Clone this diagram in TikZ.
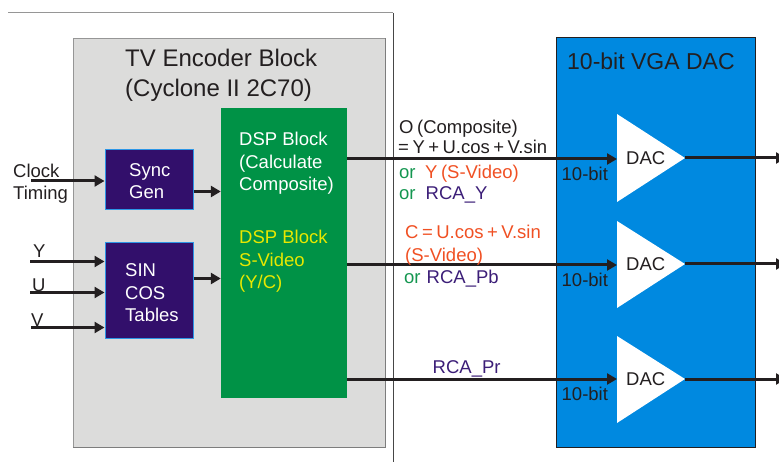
\documentclass[tikz,border=0pt]{standalone}
\usepackage{fontspec}
\setmainfont{Liberation Sans}
\usetikzlibrary{arrows.meta}
\definecolor{encgray}{RGB}{220,220,219}
\definecolor{encedge}{RGB}{150,150,150}
\definecolor{encshadow}{RGB}{125,125,125}
\definecolor{framegray}{RGB}{150,150,150}
\definecolor{framedark}{RGB}{70,70,70}
\definecolor{dspgreen}{RGB}{0,146,70}
\definecolor{boxpurple}{RGB}{50,15,107}
\definecolor{boxedge}{RGB}{45,150,230}
\definecolor{dacblue}{RGB}{0,137,224}
\definecolor{txtdark}{RGB}{35,31,32}
\definecolor{txtyellow}{RGB}{232,232,0}
\definecolor{txtorange}{RGB}{240,80,35}
\definecolor{txtgreen}{RGB}{20,150,80}
\definecolor{txtpurple}{RGB}{60,30,120}
\newcommand{\gp}{\hspace{3.5pt}}
\begin{document}
\begin{tikzpicture}[x=1pt,y=-1pt,
  lbl/.style={anchor=base west, inner sep=0pt, font=\fontsize{18.5}{22}\selectfont, text=txtdark},
  ttl/.style={anchor=base west, inner sep=0pt, font=\fontsize{24}{30}\selectfont, text=txtdark},
  arr/.style={line width=3pt, draw=txtdark, -{Triangle[length=10pt,width=11pt]}},
  block/.style={draw=boxedge, fill=boxpurple, line width=1pt, inner sep=0pt, minimum width=88pt},
  dactri/.style={fill=white, draw=none},
]
\useasboundingbox (0,0) rectangle (779,462);
\clip (0,0) rectangle (779,462);

% outer frame
\draw[draw=framegray, line width=1pt] (8,13) -- (393,13);
\draw[draw=framedark, line width=1pt] (393,13) -- (393,462);

% encoder block
\node[draw=encedge, fill=encgray, line width=1pt, minimum width=312pt, minimum height=408pt, inner sep=0pt] (enc) at (229,243) {};
\draw[draw=encshadow, line width=1.5pt] (enc.north east) -- (enc.south east) -- (enc.south west);
\node[ttl] (ttl1) at (125,66.7) {TV Encoder Block};
\node[ttl] (ttl2) at (125,96.5) {(Cyclone II 2C70)};

% DSP green block
\node[fill=dspgreen, minimum width=126pt, minimum height=290pt, inner sep=0pt] (green) at (284,253) {};
\node[lbl, text=white] (g1) at (239,146) {DSP Block};
\node[lbl, text=white] (g2) at (239,168.3) {(Calculate};
\node[lbl, text=white] (g3) at (239,190.7) {Composite)};
\node[lbl, text=txtyellow] (g4) at (239,243.3) {DSP Block};
\node[lbl, text=txtyellow] (g5) at (239,266.2) {S-Video};
\node[lbl, text=txtyellow] (g6) at (239,289) {(Y/C)};

% purple blocks
\node[block, minimum height=60pt] (sync) at (149,180) {};
\node[lbl, text=white] (s1) at (129,177) {Sync};
\node[lbl, text=white] (s2) at (129,199) {Gen};
\node[block, minimum height=95pt] (sin) at (149,290.5) {};
\node[lbl, text=white] (c1) at (125,276.7) {SIN};
\node[lbl, text=white] (c2) at (125,299.5) {COS};
\node[lbl, text=white] (c3) at (125,322) {Tables};

% inputs
\node[lbl] (lclk) at (13,177.3) {Clock};
\node[lbl] (ltim) at (13,199.3) {Timing};
\node[lbl] (ly) at (33,258) {Y};
\node[lbl] (lu) at (32,291.5) {U};
\node[lbl] (lv) at (31,326.5) {V};
\coordinate (clk) at (31,181);
\coordinate (yin) at (30,261.5);
\coordinate (uin) at (30,292.5);
\coordinate (vin) at (31,327.5);
\draw[arr] (clk) -- (clk -| sync.west);
\draw[arr] (yin) -- (yin -| sin.west);
\draw[arr] (uin) -- (uin -| sin.west);
\draw[arr] (vin) -- (vin -| sin.west);
\coordinate (sg) at (193,191.5);
\coordinate (st) at (193,278.5);
\draw[arr] (sync.east |- sg) -- (green.west |- sg);
\draw[arr] (sin.east |- st) -- (green.west |- st);

% VGA DAC block
\node[draw=txtdark, fill=dacblue, line width=1pt, minimum width=199pt, minimum height=409pt, inner sep=0pt] (vga) at (655.5,242.5) {};
\node[ttl, font=\fontsize{23}{28}\selectfont] (vgat) at (567,70) {10-bit VGA DAC};

% DAC triangles
\coordinate (d1in) at (617,159);
\coordinate (d1out) at (685,158);
\coordinate (d2in) at (617,265);
\coordinate (d2out) at (685,264);
\coordinate (d3in) at (617,379);
\coordinate (d3out) at (685,379);
\path[dactri] (617,114) -- (d1out) -- (617,202) -- cycle;
\path[dactri] (617,221) -- (d2out) -- (617,308) -- cycle;
\path[dactri] (617,336) -- (d3out) -- (617,423) -- cycle;
\node[lbl] (dac1) at (626,165) {DAC};
\node[lbl] (dac2) at (626,270.7) {DAC};
\node[lbl] (dac3) at (626,385) {DAC};
\node[lbl] (b1) at (561.5,181) {10-bit};
\node[lbl] (b2) at (561.5,286.7) {10-bit};
\node[lbl] (b3) at (561.5,400.7) {10-bit};

% connectors green -> DAC
\draw[arr] (green.east |- d1in) -- (d1in);
\draw[arr] (green.east |- d2in) -- (d2in);
\draw[arr] (green.east |- d3in) -- (d3in);
\coordinate (o1) at (786,158);
\coordinate (o2) at (786,264);
\coordinate (o3) at (786,379);
\draw[arr] (d1out) -- (o1);
\draw[arr] (d2out) -- (o2);
\draw[arr] (d3out) -- (o3);

% connector labels
\node[lbl] (a1) at (399,133.3) {O\gp(Composite)};
\node[lbl] (a2) at (398,154) {=\gp Y\gp+\gp U.cos\gp+\gp V.sin};
\node[lbl, text=txtgreen] (a3) at (399,178.3) {or};
\node[lbl, text=txtorange] (a4) at (425,178.3) {Y\gp(S-Video)};
\node[lbl, text=txtgreen] (a5) at (399,200) {or};
\node[lbl, text=txtpurple] (a6) at (425.5,200) {RCA\_Y};
\node[lbl, text=txtorange] (m1) at (405,239) {C\gp=\gp U.cos\gp+\gp V.sin};
\node[lbl, text=txtorange] (m2) at (405,261.7) {(S-Video)};
\node[lbl, text=txtgreen] (m3) at (404,283.3) {or};
\node[lbl, text=txtpurple] (m4) at (426.5,283.3) {RCA\_Pb};
\node[lbl, text=txtpurple] (p1) at (432.5,373.3) {RCA\_Pr};
\end{tikzpicture}
\end{document}
